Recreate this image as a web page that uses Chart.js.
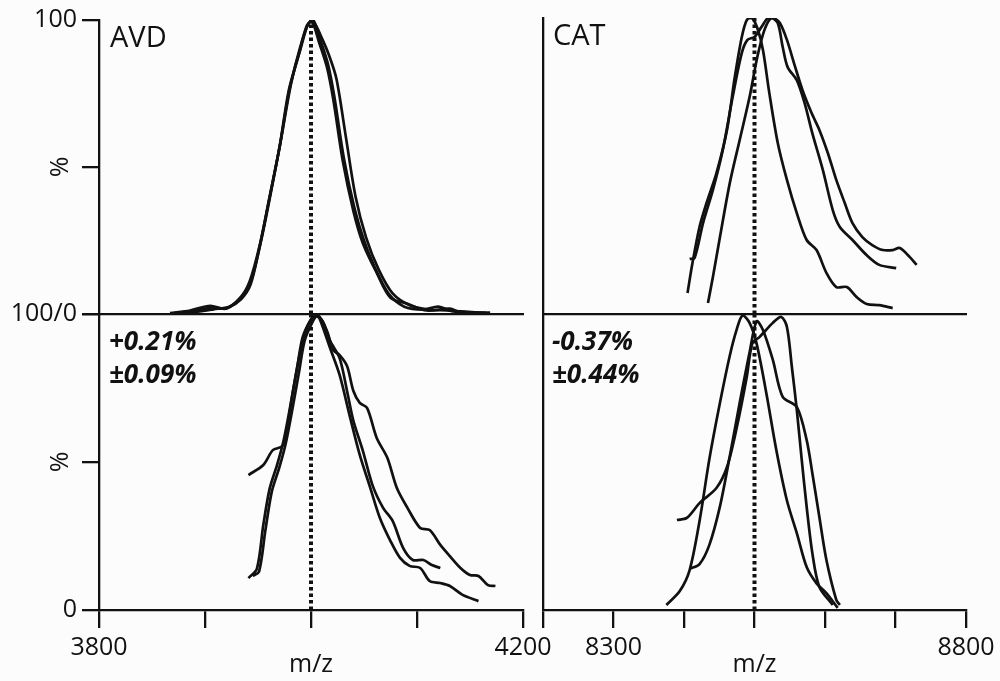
<!DOCTYPE html>
<html>
<head>
<meta charset="utf-8">
<script src="https://cdn.jsdelivr.net/npm/chart.js@4.4.1/dist/chart.umd.min.js"></script>
<style>
  html, body { margin: 0; padding: 0; background: #fcfcfc; }
  #wrap { position: relative; width: 1000px; height: 681px; }
  #wrap canvas { position: absolute; left: 0; top: 0; }
</style>
</head>
<body>
<div id="wrap">
  <canvas id="avdTop" width="1000" height="681"></canvas>
  <canvas id="avdBot" width="1000" height="681"></canvas>
  <canvas id="catTop" width="1000" height="681"></canvas>
  <canvas id="catBot" width="1000" height="681"></canvas>
</div>
<script>
// AVD, upper panel: three replicate spectra (m/z, relative intensity %)
const avdTopMz1  = [3867, 3886, 3905, 3919, 3933, 3942, 3952, 3961, 3971, 3980, 3990, 3997, 4001, 4008, 4015, 4021, 4030, 4040, 4049, 4062, 4075, 4091, 4109, 4131, 4141, 4169];
const avdTopInt1 = [0.3, 1.2, 2.8, 1.8, 5.5, 11, 24, 40, 58, 77, 90, 98.5, 99.5, 92, 84, 73, 52, 35, 24, 14, 5.5, 3.5, 1.2, 1.8, 0.6, 0.5];
const avdTopMz2  = [3872, 3890, 3906, 3921, 3935, 3944, 3953, 3962, 3972, 3981, 3990, 3998, 4003, 4010, 4017, 4024, 4033, 4042, 4052, 4064, 4077, 4093, 4111, 4128, 4145, 4165];
const avdTopInt2 = [0.4, 1.0, 2.2, 2.0, 6.0, 12, 25, 41, 60, 78, 91, 99, 99, 94, 88, 80, 60, 40, 26, 15, 7, 3, 1.5, 1.2, 0.8, 0.4];
const avdTopMz3  = [3875, 3893, 3908, 3923, 3934, 3943, 3951, 3960, 3970, 3979, 3989, 3996, 4002, 4009, 4016, 4022, 4031, 4041, 4050, 4060, 4073, 4088, 4106, 4120, 4133, 4150];
const avdTopInt3 = [0.2, 0.8, 1.6, 2.5, 5.0, 10, 22, 38, 56, 76, 89, 98, 100, 93, 85, 74, 53, 36, 25, 16, 7, 2.5, 1.5, 2.5, 1, 0.5];

// AVD, lower panel
const avdBotMz1  = [3941, 3955, 3964, 3973, 3977, 3983, 3990, 3996, 4001, 4007, 4015, 4021, 4027, 4034, 4040, 4046, 4053, 4062, 4072, 4081, 4091, 4103, 4112, 4122, 4131, 4141, 4150, 4158, 4167, 4174];
const avdBotInt1 = [45.6, 49, 54, 55.4, 60.5, 74, 87.5, 95, 98.6, 99.5, 94.3, 87.8, 86.1, 82.4, 74, 70, 68.2, 58.1, 51.4, 41.2, 34.5, 27.7, 27, 22, 18.2, 14.2, 11.8, 11.5, 8.4, 8.1];
const avdBotMz2  = [3941, 3949, 3955, 3961, 3968, 3974, 3980, 3987, 3992, 3999, 4004, 4011, 4018, 4027, 4034, 4040, 4049, 4058, 4068, 4077, 4087, 4096, 4106, 4114, 4122];
const avdBotInt2 = [10.8, 14, 28.7, 41, 49, 57, 68, 82, 92, 97.6, 99.3, 97.6, 90.9, 85.1, 74, 63.9, 53.7, 42.2, 34.5, 30.1, 20.9, 16.9, 16.9, 15.2, 14.2];
const avdBotMz3  = [3945, 3951, 3957, 3963, 3970, 3976, 3982, 3989, 3994, 4001, 4006, 4009, 4018, 4027, 4037, 4046, 4056, 4065, 4075, 4084, 4093, 4103, 4112, 4122, 4131, 4143, 4158];
const avdBotInt3 = [11.5, 13, 27, 40, 48, 56, 67, 81, 91, 97, 99.5, 97.6, 88.5, 79.4, 64.9, 52.4, 41.2, 31.1, 23.3, 17.6, 14.9, 14.2, 9.8, 9.1, 8.1, 5.1, 3];

// CAT, upper panel
const catTopMz1  = [8405, 8412, 8422, 8432, 8446, 8461, 8472, 8482, 8489, 8496, 8504, 8512, 8521, 8533, 8546, 8560, 8574, 8588, 8602, 8616, 8631, 8645, 8659, 8677, 8696];
const catTopInt1 = [7.1, 17.2, 29.4, 37.5, 47.6, 62.2, 80, 93.6, 99.3, 100, 96.6, 89.2, 74.7, 57.8, 45.3, 34.1, 25, 21.6, 13.9, 9.1, 9.1, 5.7, 3.4, 3, 2];
const catTopMz2  = [8408, 8415, 8427, 8441, 8455, 8469, 8482, 8490, 8500, 8510, 8519, 8527, 8536, 8546, 8557, 8568, 8581, 8592, 8604, 8616, 8628, 8639, 8653, 8667, 8682, 8696, 8706, 8720, 8730];
const catTopInt2 = [18.6, 18.9, 30.7, 41.9, 55.4, 73.3, 88.2, 92.6, 93.6, 97, 100, 100, 98.3, 92.6, 84, 75.7, 67.9, 62.2, 54.4, 45.3, 37.5, 30.7, 26, 23.3, 21.6, 21.6, 22.3, 19.3, 16.6];
const catTopMz3  = [8434, 8441, 8451, 8465, 8479, 8493, 8504, 8514, 8524, 8533, 8540, 8547, 8560, 8571, 8582, 8597, 8611, 8621, 8639, 8659, 8677, 8701];
const catTopInt3 = [3.7, 12.5, 26, 44.3, 58.8, 73.3, 86.8, 95.9, 100, 98.3, 90.2, 83.4, 79, 71.3, 61.1, 48.6, 35.1, 29.4, 25, 19.9, 16.6, 15.5];

// CAT, lower panel
const catBotMz1  = [8375, 8394, 8408, 8422, 8436, 8451, 8465, 8475, 8483, 8493, 8503, 8517, 8531, 8546, 8560, 8574, 8588, 8602, 8618];
const catBotInt1 = [1.7, 6.4, 13.5, 30, 51, 70, 86, 95, 99.5, 97, 90, 73, 54, 37, 26, 14.5, 9, 5.7, 0.7];
const catBotMz2  = [8408, 8422, 8436, 8451, 8465, 8479, 8493, 8503, 8512, 8526, 8540, 8560, 8574, 8582, 8592, 8602, 8616, 8621];
const catBotInt2 = [13.9, 15.5, 22, 35, 52, 70, 87, 97.5, 94.6, 84.5, 72, 68.6, 57.4, 46.3, 31.4, 16.9, 3.4, 1.7];
const catBotMz3  = [8390, 8404, 8422, 8446, 8461, 8475, 8489, 8497, 8507, 8526, 8538, 8546, 8553, 8560, 8567, 8574, 8582, 8592, 8611];
const catBotInt3 = [30.4, 31.1, 36.1, 41.2, 48.3, 61.8, 78.7, 90.2, 92.2, 97, 99, 95.6, 82.1, 67.6, 50.7, 34.8, 19.3, 7.8, 1.7];

// reference m/z (dotted line) for each protein
const avdRefMz = 4000;
const catRefMz = 8500;

// axis ticks and their labels
const yTicks         = [0, 50, 100];
const yTopTickText   = ['', '', '100'];
const yBotTickText   = ['0', '', '100/0'];
const avdMzTicks     = [3800, 3900, 4000, 4100, 4200];
const avdMzTickText  = ['3800', '', '', '', '4200'];
const catMzTicks     = [8200, 8300, 8400, 8500, 8600, 8700, 8800];
const catMzTickText  = ['', '8300', '', '', '', '', '8800'];

// panel captions
const proteinNames = ['AVD', 'CAT'];
const shiftText    = ['+0.21%', '-0.37%'];
const spreadText   = ['\u00b10.09%', '\u00b10.44%'];

const INK = '#111';
const FAMILY = '"Open Sans", "Noto Sans", sans-serif';
const tickFont = { family: FAMILY, size: 25 };

const pts = (mz, inten) => mz.map((x, i) => ({ x, y: inten[i] }));

// draws captions inside the plot area
const notesPlugin = {
  id: 'notes',
  afterDatasetsDraw(chart, args, opts) {
    const { ctx, chartArea } = chart;
    ctx.save();
    ctx.fillStyle = INK;
    ctx.textBaseline = 'alphabetic';
    ctx.textAlign = 'left';
    (opts.lines || []).forEach(l => {
      ctx.font = l.font;
      ctx.fillText(l.text, chartArea.left + l.dx, chartArea.top + l.dy);
    });
    ctx.restore();
  }
};

function panel(id, cfg) {
  const datasets = cfg.traces.map(([mz, inten]) => ({
    data: pts(mz, inten),
    borderColor: INK, borderWidth: 2.7, pointRadius: 0,
    tension: 0.3, fill: false
  }));
  datasets.push({
    data: [{ x: cfg.ref, y: 0 }, { x: cfg.ref, y: 100 }],
    borderColor: INK, borderWidth: 4, borderDash: [3.5, 3],
    borderCapStyle: 'butt', pointRadius: 0, tension: 0
  });

  const xTicks = cfg.xTicks;
  const x = {
    type: 'linear',
    min: xTicks[0], max: xTicks[xTicks.length - 1],
    afterBuildTicks: s => { s.ticks = xTicks.map(v => ({ value: v })); },
    afterFit: s => { s.height = cfg.bottom ? 71 : 0; },
    border: { display: true, color: INK, width: 2.3 },
    grid: cfg.bottom
      ? { drawOnChartArea: false, drawTicks: true, tickLength: 18, color: INK, lineWidth: 2.3 }
      : { drawOnChartArea: false, drawTicks: false },
    ticks: cfg.bottom
      ? { autoSkip: false, maxRotation: 0, padding: 5, color: INK, font: tickFont,
          callback: (v, i) => cfg.xText[i] }
      : { display: false },
    title: cfg.bottom
      ? { display: true, text: 'm/z', color: INK, font: tickFont, padding: { top: 0, bottom: 1 } }
      : { display: false }
  };

  const y = {
    type: 'linear', min: 0, max: 100,
    afterBuildTicks: s => { s.ticks = yTicks.map(v => ({ value: v })); },
    afterFit: s => { s.width = cfg.left ? 99 : 0; },
    border: { display: true, color: INK, width: 2.3 },
    grid: cfg.left
      ? { drawOnChartArea: false, drawTicks: true, tickLength: 17, color: INK, lineWidth: 2.3 }
      : { drawOnChartArea: false, drawTicks: false },
    ticks: cfg.left
      ? { padding: 5, color: INK, font: tickFont, callback: (v, i) => cfg.yText[i] }
      : { display: false },
    title: cfg.left
      ? { display: true, text: '%', color: INK, font: tickFont, padding: { top: 46, bottom: 0 } }
      : { display: false }
  };

  return new Chart(document.getElementById(id), {
    type: 'line',
    data: { datasets },
    options: {
      responsive: false,
      animation: false,
      events: [],
      layout: { padding: cfg.pad },
      plugins: {
        legend: { display: false },
        tooltip: { enabled: false },
        notes: { lines: cfg.notes }
      },
      scales: { x, y }
    },
    plugins: [notesPlugin]
  });
}

const nameFont = `29px ${FAMILY}`;
const statFont = `italic bold 26px ${FAMILY}`;

panel('avdTop', {
  left: true, bottom: false,
  pad: { left: 0, top: 18, right: 477, bottom: 367 },
  traces: [[avdTopMz1, avdTopInt1], [avdTopMz2, avdTopInt2], [avdTopMz3, avdTopInt3]],
  ref: avdRefMz, xTicks: avdMzTicks, yText: yTopTickText,
  notes: [{ text: proteinNames[0], font: nameFont, dx: 11, dy: 27 }]
});

panel('avdBot', {
  left: true, bottom: true,
  pad: { left: 0, top: 314, right: 477, bottom: 0 },
  traces: [[avdBotMz1, avdBotInt1], [avdBotMz2, avdBotInt2], [avdBotMz3, avdBotInt3]],
  ref: avdRefMz, xTicks: avdMzTicks, xText: avdMzTickText, yText: yBotTickText,
  notes: [
    { text: shiftText[0], font: statFont, dx: 10, dy: 36 },
    { text: spreadText[0], font: statFont, dx: 10, dy: 69 }
  ]
});

panel('catTop', {
  left: false, bottom: false,
  pad: { left: 543, top: 18, right: 34, bottom: 367 },
  traces: [[catTopMz1, catTopInt1], [catTopMz2, catTopInt2], [catTopMz3, catTopInt3]],
  ref: catRefMz, xTicks: catMzTicks,
  notes: [{ text: proteinNames[1], font: nameFont, dx: 10, dy: 27 }]
});

panel('catBot', {
  left: false, bottom: true,
  pad: { left: 543, top: 314, right: 34, bottom: 0 },
  traces: [[catBotMz1, catBotInt1], [catBotMz2, catBotInt2], [catBotMz3, catBotInt3]],
  ref: catRefMz, xTicks: catMzTicks, xText: catMzTickText,
  notes: [
    { text: shiftText[1], font: statFont, dx: 9, dy: 36 },
    { text: spreadText[1], font: statFont, dx: 9, dy: 69 }
  ]
});
</script>
</body>
</html>
